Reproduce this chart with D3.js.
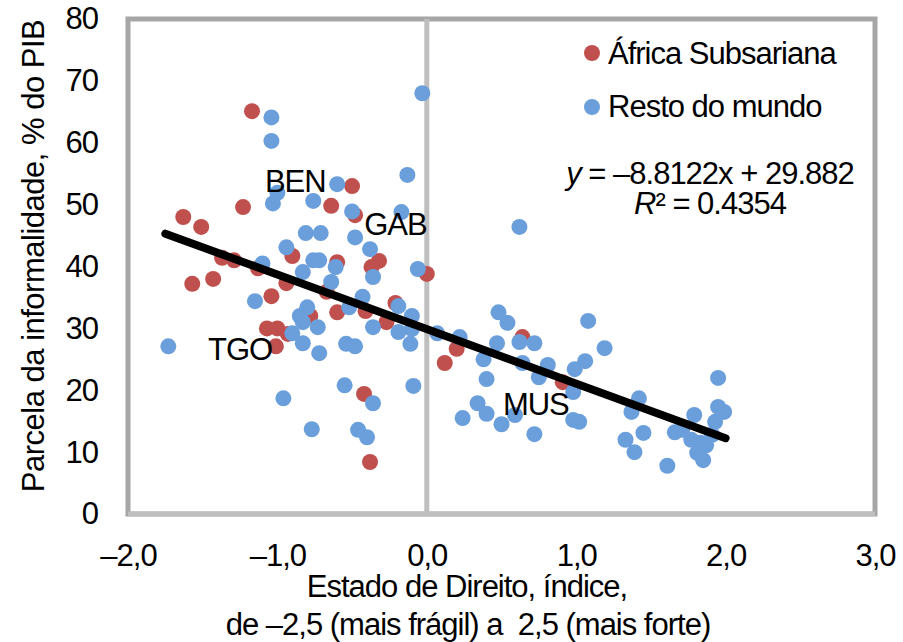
<!DOCTYPE html>
<html>
<head>
<meta charset="utf-8">
<script src="https://cdn.jsdelivr.net/npm/d3@7"></script>
<style>
  body { margin: 0; background: #fff; }
  text { fill: #000; }
</style>
</head>
<body>
<div id="chart"></div>
<script>
// Estado de Direito (x) vs parcela da informalidade (y)
var africaX = [-1.17,-1.63,-1.51,-1.23,-1.57,-1.43,-1.37,-1.29,-1.13,-1.04,-0.94,-0.90,-1.07,-1.00,-0.93,-1.01,-0.78,-0.67,-0.60,-0.60,-0.64,-0.50,-0.48,-0.41,-0.37,-0.32,-0.27,-0.21,-0.42,-0.38,0.00,0.12,0.20,0.64,0.91];
var africaY = [65.1,48.0,46.4,49.6,37.2,38.0,41.4,41.0,39.7,35.2,37.3,41.7,30.0,30.0,29.1,27.1,32.0,35.9,32.6,40.7,49.8,53.0,48.3,32.8,39.9,40.9,31.0,34.1,19.4,8.4,38.8,24.4,26.7,28.6,21.3];

var restoX = [-1.04,-1.04,-0.03,-1.00,-1.03,-0.60,-0.76,-0.50,-0.13,-0.17,-0.81,-0.71,-0.48,-0.38,-0.94,-0.76,-0.72,-0.61,-0.83,-0.36,-0.06,-1.10,-0.64,-1.15,-0.43,-0.80,-0.85,-0.83,-0.52,-0.19,-0.10,-0.36,-0.19,-0.10,-0.73,-0.90,-0.83,-1.73,-0.72,-0.54,-0.48,-0.11,-0.55,-0.09,-0.36,-0.96,-0.77,-0.46,-0.40,
  0.07,0.22,0.38,0.40,0.34,0.40,0.24,0.47,0.48,0.54,0.62,0.72,0.62,0.64,0.81,0.75,0.99,1.06,1.19,1.08,0.98,0.98,1.02,0.59,0.50,0.72,1.42,1.37,1.33,1.45,1.39,1.61,1.95,1.95,1.99,1.79,1.93,1.66,1.71,1.77,1.83,1.87,1.81,1.85,1.91];
var restoY = [64.1,60.3,68.0,51.9,50.2,53.3,50.6,48.9,54.8,48.8,45.4,45.4,44.7,42.8,43.1,41.0,41.0,39.9,39.1,38.3,39.6,40.5,37.5,34.4,35.1,33.4,32.0,31.0,33.4,33.6,32.0,30.2,29.4,29.9,30.2,29.2,27.6,27.1,26.0,27.5,27.1,27.5,20.8,20.7,17.9,18.7,13.7,13.6,12.4,
  29.2,28.6,25.0,21.8,17.9,16.2,15.5,27.6,32.6,30.9,27.8,27.6,46.4,24.4,24.1,22.1,23.4,24.7,26.8,31.2,19.7,15.2,14.9,16.0,14.5,12.9,18.7,16.5,12.0,13.1,10.0,7.8,22.0,17.3,16.5,16.0,14.9,13.2,13.6,12.0,11.5,11.1,9.9,8.7,12.8];

// países destacados
var destaqueNomes = ["BEN", "GAB", "TGO", "MUS"];
var destaqueX = [-0.88, -0.21, -1.25, 0.73];
var destaqueY = [52.0, 45.1, 24.9, 16.0];

// tendência linear (Excel)
var trendSlope = -8.8122, trendIntercept = 29.882;
var trendRange = [-1.75, 2.0];

var xTicks = [-2, -1, 0, 1, 2, 3];
var yTicks = [0, 10, 20, 30, 40, 50, 60, 70, 80];
var legendLabels = ["África Subsariana", "Resto do mundo"];

var width = 903, height = 642;
var pLeft = 128, pRight = 875, pTop = 19, pBottom = 514;
var red = "#C0504D", blue = "#6A9FDC";
var fontFam = "Liberation Sans, Arial, sans-serif", fs = 31, ls = "-1px";

var svg = d3.select("#chart").append("svg").attr("width", width).attr("height", height);

var x = d3.scaleLinear().domain([-2, 3]).range([pLeft, pRight]);
var y = d3.scaleLinear().domain([0, 80]).range([pBottom, pTop]);

var fmt = function(d) { return d3.format(".1f")(d).replace("-", "\u2013").replace("\u2212", "\u2013").replace(".", ","); };

function txt(sel) {
  return sel.style("font-size", fs + "px").style("font-family", fontFam).style("letter-spacing", ls);
}

// moldura
svg.append("rect").attr("x", pLeft).attr("y", pTop).attr("width", pRight - pLeft).attr("height", pBottom - pTop)
  .attr("fill", "none").attr("stroke", "#a6a6a6").attr("stroke-width", 5);
svg.append("line").attr("x1", pLeft).attr("x2", pRight).attr("y1", y(0)).attr("y2", y(0))
  .attr("stroke", "#bfbfbf").attr("stroke-width", 5);
svg.append("line").attr("x1", x(0)).attr("x2", x(0)).attr("y1", pTop).attr("y2", pBottom)
  .attr("stroke", "#bfbfbf").attr("stroke-width", 5);

// eixos
var xAxis = svg.append("g").attr("transform", "translate(0," + pBottom + ")")
  .call(d3.axisBottom(x).tickValues(xTicks).tickSize(0).tickPadding(30).tickFormat(fmt));
var yAxis = svg.append("g").attr("transform", "translate(" + pLeft + ",0)")
  .call(d3.axisLeft(y).tickValues(yTicks).tickSize(0).tickPadding(30));
[xAxis, yAxis].forEach(function(a) {
  a.select(".domain").remove();
  txt(a.selectAll("text")).attr("fill", "#000");
});

// pontos
var africa = africaX.map(function(v, i) { return [v, africaY[i]]; });
var resto = restoX.map(function(v, i) { return [v, restoY[i]]; });

svg.append("g").selectAll("circle").data(africa).enter().append("circle")
  .attr("cx", function(d) { return x(d[0]); }).attr("cy", function(d) { return y(d[1]); })
  .attr("r", 8).attr("fill", red);
svg.append("g").selectAll("circle").data(resto).enter().append("circle")
  .attr("cx", function(d) { return x(d[0]); }).attr("cy", function(d) { return y(d[1]); })
  .attr("r", 8).attr("fill", blue);

// linha de tendência
svg.append("line")
  .attr("x1", x(trendRange[0])).attr("y1", y(trendSlope * trendRange[0] + trendIntercept))
  .attr("x2", x(trendRange[1])).attr("y2", y(trendSlope * trendRange[1] + trendIntercept))
  .attr("stroke", "#000").attr("stroke-width", 8).attr("stroke-linecap", "round");

// rótulos
txt(svg.append("g").selectAll("text").data(destaqueNomes).enter().append("text"))
  .attr("x", function(d, i) { return x(destaqueX[i]); })
  .attr("y", function(d, i) { return y(destaqueY[i]); })
  .attr("text-anchor", "middle")
  .text(function(d) { return d; });

// legenda
var lg = svg.append("g");
[red, blue].forEach(function(c, i) {
  lg.append("circle").attr("cx", 592).attr("cy", 53 + i * 54).attr("r", 8).attr("fill", c);
  txt(lg.append("text")).attr("x", 608).attr("y", 64 + i * 53).text(legendLabels[i]);
});

var eq = txt(svg.append("text")).attr("x", 710).attr("y", 184).attr("text-anchor", "middle");
eq.append("tspan").style("font-style", "italic").text("y");
eq.append("tspan").text(" = \u2013" + Math.abs(trendSlope) + "x + " + trendIntercept);
var r2 = txt(svg.append("text")).attr("x", 710).attr("y", 214).attr("text-anchor", "middle");
r2.append("tspan").style("font-style", "italic").text("R");
r2.append("tspan").text("\u00b2 = 0.4354");

// títulos dos eixos
txt(svg.append("text")).attr("x", 467).attr("y", 597).attr("text-anchor", "middle")
  .text("Estado de Direito, índice,");
txt(svg.append("text")).attr("x", 468).attr("y", 635).attr("text-anchor", "middle")
  .style("white-space", "pre")
  .text("de \u20132,5 (mais frágil) a  2,5 (mais forte)");
txt(svg.append("text")).attr("transform", "translate(44,256) rotate(-90)").attr("text-anchor", "middle")
  .style("letter-spacing", "-0.5px")
  .text("Parcela da informalidade, % do PIB");
</script>
</body>
</html>
